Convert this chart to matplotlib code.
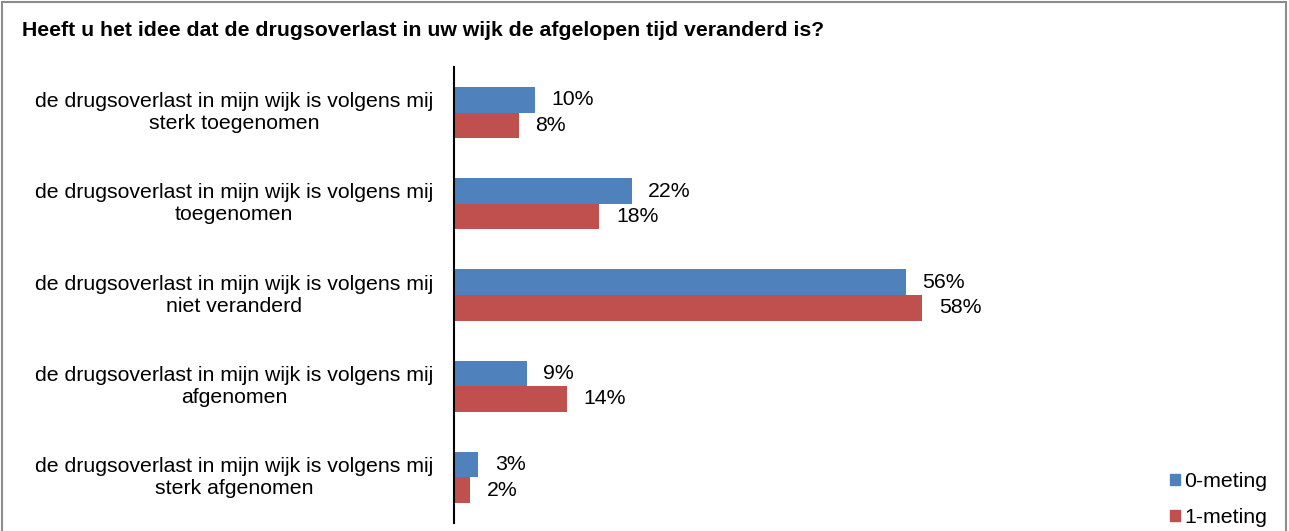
import matplotlib.pyplot as plt
import numpy as np
from matplotlib.patches import Patch, Rectangle
from matplotlib.transforms import blended_transform_factory

plt.rcParams['font.family'] = ['Liberation Sans', 'DejaVu Sans']

title = 'Heeft u het idee dat de drugsoverlast in uw wijk de afgelopen tijd veranderd is?'
categories = [
    'de drugsoverlast in mijn wijk is volgens mij\nsterk toegenomen',
    'de drugsoverlast in mijn wijk is volgens mij\ntoegenomen',
    'de drugsoverlast in mijn wijk is volgens mij\nniet veranderd',
    'de drugsoverlast in mijn wijk is volgens mij\nafgenomen',
    'de drugsoverlast in mijn wijk is volgens mij\nsterk afgenomen',
]
meting0 = [10, 22, 56, 9, 3]
meting1 = [8, 18, 58, 14, 2]
series_names = ['0-meting', '1-meting']
colors = ['#4F81BD', '#C0504D']

FS = 15.3
W, H = 1289, 531
fig = plt.figure(figsize=(W / 100, H / 100), dpi=100)
ax = fig.add_axes([454 / W, 8 / H, 807 / W, 456 / H])

y = np.arange(len(categories))
bh = 0.28
for vals, off, c in [(meting0, -bh / 2, colors[0]), (meting1, bh / 2, colors[1])]:
    bars = ax.barh(y + off, vals, height=bh, color=c)
    for b, v in zip(bars, vals):
        ax.annotate(f'{v}%', (b.get_width(), b.get_y() + b.get_height() / 2),
                    xytext=(12, 0), textcoords='offset points',
                    ha='left', va='center', fontsize=FS, color='#000000')

ax.set_xlim(0, 100)
ax.set_ylim(len(categories) - 0.5, -0.5)
ax.set_xticks([])
ax.set_yticks([])
for s in ['top', 'right', 'bottom']:
    ax.spines[s].set_visible(False)
ax.spines['left'].set_linewidth(1.5)
ax.spines['left'].set_color('black')

trans = blended_transform_factory(fig.transFigure, ax.transData)
for i, lab in enumerate(categories):
    ax.text(234 / W, i, lab, transform=trans,
            ha='center', va='center', fontsize=FS, multialignment='center', linespacing=1.2)

fig.text(22 / W, 1 - 30 / H, title, fontsize=FS, fontweight='bold', ha='left', va='center')

handles = [Patch(color=c, label=n) for c, n in zip(colors, series_names)]
fig.legend(handles=handles, loc='lower left', bbox_to_anchor=(1151 / W, -15 / H),
           frameon=False, fontsize=FS, handlelength=0.45, handleheight=0.45,
           handletextpad=0.2, labelspacing=0.8)

fig.patches.append(Rectangle((2 / W, -0.1), (W - 5) / W, 1.1 - 2.5 / H,
                             transform=fig.transFigure, fill=False,
                             edgecolor='#8c8c8c', linewidth=1.5))

fig.savefig('out.png', dpi=100)
